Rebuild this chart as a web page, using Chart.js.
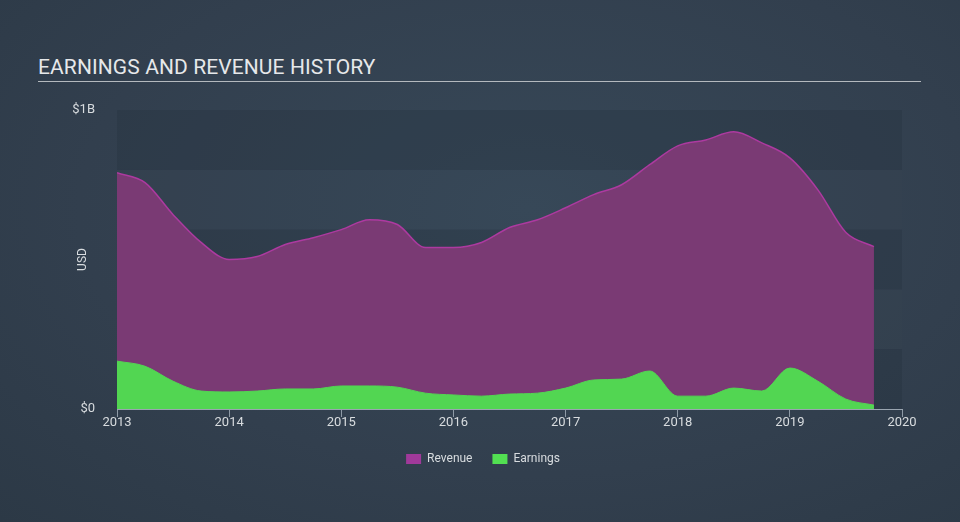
<!DOCTYPE html>
<html>
<head>
<meta charset="utf-8">
<script src="https://cdn.jsdelivr.net/npm/chart.js@4/dist/chart.umd.min.js"></script>
<style>
	html, body { margin: 0; padding: 0; }
	body {
		width: 960px; height: 522px; overflow: hidden; position: relative;
		background: radial-gradient(ellipse at 55% 40%, #374858 0%, #323f4e 60%, #2c3946 100%);
		font-family: Roboto, "Open Sans", sans-serif;
	}
	#title {
		position: absolute; left: 38px; top: 55px; width: 883px;
		color: #e6e8ea; font-size: 21px; letter-spacing: 0.1px;
		border-bottom: 1.5px solid #b4b9be; padding-bottom: 1px; line-height: 25px;
	}
	#wrap { position: absolute; left: 0; top: 0; width: 960px; height: 522px; }
</style>
</head>
<body>
<div id="title">EARNINGS AND REVENUE HISTORY</div>
<div id="wrap"><canvas id="myChart" width="960" height="522"></canvas></div>
<script>
// quarterly points, values in $B
var periods = [2013, 2013.25, 2013.5, 2013.75, 2014, 2014.25, 2014.5, 2014.75,
	2015, 2015.25, 2015.5, 2015.75, 2016, 2016.25, 2016.5, 2016.75,
	2017, 2017.25, 2017.5, 2017.75, 2018, 2018.25, 2018.5, 2018.75,
	2019, 2019.25, 2019.5, 2019.75];
var revenue = [0.79, 0.757, 0.65, 0.557, 0.50, 0.51, 0.55, 0.573,
	0.60, 0.633, 0.617, 0.54, 0.54, 0.557, 0.607, 0.633,
	0.673, 0.717, 0.75, 0.817, 0.88, 0.90, 0.927, 0.89,
	0.84, 0.733, 0.59, 0.543];
var earnings = [0.16, 0.143, 0.093, 0.06, 0.057, 0.06, 0.067, 0.067,
	0.077, 0.077, 0.073, 0.053, 0.047, 0.043, 0.05, 0.053,
	0.07, 0.097, 0.10, 0.127, 0.043, 0.043, 0.07, 0.06,
	0.137, 0.093, 0.033, 0.013];
var yearTicks = [2013, 2014, 2015, 2016, 2017, 2018, 2019, 2020];
var seriesNames = ['Revenue', 'Earnings'];

function toPoints(vals) {
	var pts = [];
	for (var i = 0; i < vals.length; i++) {
		pts.push({ x: periods[i], y: vals[i] });
	}
	return pts;
}

// alternating horizontal bands behind the plot
var bandPlugin = {
	id: 'bands',
	beforeDraw: function(chart) {
		var ctx = chart.ctx, area = chart.chartArea, y = chart.scales.y;
		ctx.save();
		for (var i = 0; i < 5; i++) {
			var top = y.getPixelForValue(1 - i * 0.2);
			var bot = y.getPixelForValue(1 - (i + 1) * 0.2);
			ctx.fillStyle = i % 2 === 0 ? 'rgba(30,42,54,0.25)' : 'rgba(60,76,92,0.08)';
			ctx.fillRect(area.left, top, area.right - area.left, bot - top);
		}
		ctx.restore();
	}
};

var ctx = document.getElementById('myChart').getContext('2d');
var chart = new Chart(ctx, {
	type: 'line',
	data: {
		datasets: [
			{
				label: seriesNames[0],
				data: toPoints(revenue),
				order: 2,
				fill: 'origin',
				backgroundColor: '#7a3a74',
				borderColor: '#ad3aa0',
				borderWidth: 1.5,
				pointRadius: 0,
				cubicInterpolationMode: 'monotone'
			},
			{
				label: seriesNames[1],
				data: toPoints(earnings),
				order: 1,
				fill: 'origin',
				backgroundColor: '#52d652',
				borderColor: '#52d652',
				borderWidth: 1,
				pointRadius: 0,
				cubicInterpolationMode: 'monotone'
			}
		]
	},
	options: {
		responsive: false,
		animation: false,
		layout: { padding: { left: 70, right: 58, top: 110, bottom: 47 } },
		plugins: {
			legend: {
				position: 'bottom',
				labels: {
					color: '#d8dcdf',
					font: { family: 'Roboto', size: 12 },
					boxWidth: 15, boxHeight: 10, padding: 14,
					generateLabels: function(c) {
						var cols = ['#a0399a', '#52e052'];
						return c.data.datasets.map(function(ds, i) {
							return { text: ds.label + '  ', fillStyle: cols[i], strokeStyle: cols[i], lineWidth: 0, datasetIndex: i, fontColor: '#d8dcdf' };
						});
					}
				}
			},
			tooltip: { enabled: false }
		},
		scales: {
			x: {
				type: 'linear',
				min: 2013, max: 2020,
				afterFit: function(s) { s.height = 30; },
				afterBuildTicks: function(s) {
					s.ticks = yearTicks.map(function(v) { return { value: v }; });
				},
				ticks: {
					color: '#d8dcdf', font: { family: 'Roboto', size: 13 }, padding: -2,
					maxRotation: 0,
					callback: function(v) { return String(v); }
				},
				grid: { drawOnChartArea: false, color: '#8e9aa6', tickLength: 8 },
				border: { color: '#9aa5b0', width: 1 }
			},
			y: {
				min: 0, max: 1,
				afterFit: function(s) { s.width = 47; },
				afterBuildTicks: function(s) {
					s.ticks = [{ value: 0 }, { value: 1 }];
				},
				ticks: {
					color: '#d8dcdf', font: { family: 'Roboto', size: 13 }, padding: 14,
					callback: function(v) { return v === 0 ? '$0' : '$1B'; }
				},
				title: { display: true, text: 'USD', color: '#d8dcdf', font: { family: 'Roboto', size: 12 }, padding: { top: 6, bottom: 0 } },
				grid: { display: false },
				border: { display: false }
			}
		}
	},
	plugins: [bandPlugin]
});
</script>
</body>
</html>
